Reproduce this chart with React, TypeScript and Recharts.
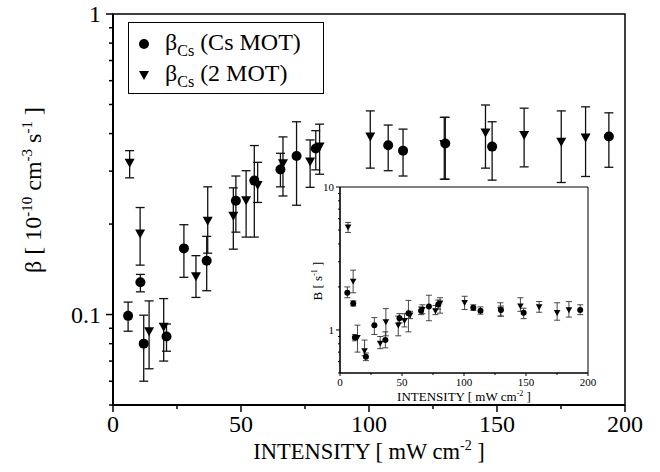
import React from 'react'
import { ScatterChart, Scatter, XAxis, YAxis, ErrorBar, ReferenceArea, Legend } from 'recharts'

const SERIF = 'Liberation Serif, Times New Roman, DejaVu Serif, serif'

// main plot: beta (10^-10 cm^3 s^-1) against intensity (mW cm^-2)
const csIntensity = [5.9, 10.7, 12.0, 20.9, 27.7, 36.6, 48.0, 55.2, 65.4, 71.7, 79.2, 107.5, 113.3, 129.8, 148.1, 193.7]
const csBeta = [0.099, 0.128, 0.080, 0.0845, 0.166, 0.151, 0.239, 0.279, 0.304, 0.337, 0.357, 0.366, 0.351, 0.371, 0.362, 0.391]
const csBetaHi = [0.110, 0.136, 0.0995, 0.093, 0.199, 0.182, 0.289, 0.365, 0.344, 0.438, 0.409, 0.427, 0.414, 0.453, 0.438, 0.469]
const csBetaLo = [0.088, 0.119, 0.060, 0.0755, 0.133, 0.120, 0.188, 0.181, 0.266, 0.231, 0.303, 0.301, 0.289, 0.282, 0.280, 0.309]

const twoIntensity = [6.5, 10.6, 14.1, 19.8, 32.4, 37.0, 47.0, 52.0, 56.5, 66.4, 77.0, 80.7, 100.5, 129.4, 145.5, 160.6, 175.1, 184.6]
const twoBeta = [0.32, 0.186, 0.088, 0.091, 0.134, 0.205, 0.213, 0.240, 0.270, 0.319, 0.323, 0.362, 0.391, 0.369, 0.403, 0.396, 0.376, 0.388]
const twoBetaHi = [0.351, 0.227, 0.111, 0.113, 0.157, 0.266, 0.264, 0.301, 0.321, 0.390, 0.381, 0.430, 0.476, 0.453, 0.498, 0.486, 0.476, 0.491]
const twoBetaLo = [0.285, 0.146, 0.066, 0.070, 0.114, 0.160, 0.165, 0.181, 0.236, 0.248, 0.265, 0.293, 0.307, 0.282, 0.307, 0.310, 0.275, 0.288]

// inset: B (s^-1) at the same intensities
const csB = [1.82, 1.53, 0.885, 0.649, 1.08, 0.851, 1.21, 1.31, 1.36, 1.46, 1.51, 1.43, 1.36, 1.38, 1.32, 1.38]
const csBHi = [2.00, 1.60, 0.93, 0.69, 1.22, 0.97, 1.30, 1.61, 1.45, 1.75, 1.62, 1.50, 1.45, 1.47, 1.42, 1.50]
const csBLo = [1.68, 1.47, 0.84, 0.61, 0.93, 0.75, 1.12, 0.97, 1.28, 1.16, 1.40, 1.37, 1.29, 1.25, 1.20, 1.28]

const twoB = [5.24, 2.19, 0.885, 0.715, 0.807, 1.14, 1.08, 1.16, 1.27, 1.39, 1.36, 1.54, 1.55, 1.38, 1.47, 1.45, 1.32, 1.38]
const twoBHi = [5.65, 2.62, 1.08, 0.85, 0.90, 1.41, 1.25, 1.30, 1.35, 1.50, 1.48, 1.68, 1.72, 1.55, 1.68, 1.58, 1.55, 1.58]
const twoBLo = [4.81, 1.82, 0.70, 0.66, 0.74, 0.91, 0.91, 1.05, 1.20, 1.30, 1.28, 1.31, 1.39, 1.25, 1.35, 1.33, 1.17, 1.23]

const mainXTicks = [0, 25, 50, 75, 100, 125, 150, 175, 200]
const mainYTicks = [0.05, 0.06, 0.07, 0.08, 0.09, 0.1, 0.2, 0.3, 0.4, 0.5, 0.6, 0.7, 0.8, 0.9, 1]
const insetXTicks = [0, 25, 50, 75, 100, 125, 150, 175, 200]
const insetYTicks = [0.5, 0.6, 0.7, 0.8, 0.9, 1, 2, 3, 4, 5, 6, 7, 8, 9, 10]

const seriesNames = ['(Cs MOT)', '(2 MOT)']

const rows = (xs: number[], ys: number[], lo: number[], hi: number[]) =>
  xs.map((x, i) => ({ x, y: ys[i], err: [ys[i] - lo[i], hi[i] - ys[i]] }))

const csRows = rows(csIntensity, csBeta, csBetaLo, csBetaHi)
const twoRows = rows(twoIntensity, twoBeta, twoBetaLo, twoBetaHi)
const csInsetRows = rows(csIntensity, csB, csBLo, csBHi)
const twoInsetRows = rows(twoIntensity, twoB, twoBLo, twoBHi)

const isDecade = (v: number) => Math.abs(Math.log10(v) - Math.round(Math.log10(v))) < 1e-6

const dot = (r: number) => (p: any) => <circle cx={p.cx} cy={p.cy} r={r} fill="#000" />
const downTri = (s: number) => (p: any) => (
  <path d={`M${p.cx - s},${p.cy - s * 0.8} L${p.cx + s},${p.cy - s * 0.8} L${p.cx},${p.cy + s} Z`} fill="#000" />
)

// ---- tick renderers (minor ticks are unlabeled and shorter)
function makeYTick(fontSize: number, major: number, minor: number, gap: number, lift: number, sw: number) {
  return (p: any) => {
    const big = isDecade(p.payload.value)
    return (
      <g>
        <line x1={p.x} x2={p.x - (big ? major : minor)} y1={p.y} y2={p.y} stroke="#000" strokeWidth={sw} />
        {big && (
          <text x={p.x - gap} y={p.y + lift} textAnchor="end" fontFamily={SERIF} fontSize={fontSize} fill="#000">
            {p.payload.value}
          </text>
        )}
      </g>
    )
  }
}

function makeXTick(fontSize: number, major: number, minor: number, drop: number, sw: number) {
  return (p: any) => {
    const big = p.payload.value % 50 === 0
    return (
      <g>
        <line x1={p.x} x2={p.x} y1={p.y} y2={p.y + (big ? major : minor)} stroke="#000" strokeWidth={sw} />
        {big && (
          <text x={p.x} y={p.y + drop} textAnchor="middle" fontFamily={SERIF} fontSize={fontSize} fill="#000">
            {p.payload.value}
          </text>
        )}
      </g>
    )
  }
}

const markerFor: Record<string, (p: any) => React.ReactElement> = {
  '(Cs MOT)': dot(5),
  '(2 MOT)': downTri(5),
}

function LegendBox(props: any) {
  const items = [...(props.payload || [])].sort(
    (a: any, b: any) => seriesNames.indexOf(a.value) - seriesNames.indexOf(b.value)
  )
  return (
    <div style={{ width: 196, height: 72, boxSizing: 'border-box', border: '1.5px solid #000', background: '#fff', paddingTop: 5, fontFamily: SERIF, fontSize: 24, color: '#000' }}>
      {items.map((e: any) => (
        <div key={e.value} style={{ display: 'flex', alignItems: 'center', height: 31 }}>
          <svg width={36} height={20} style={{ display: 'block' }}>
            {(markerFor[e.value] || dot(5))({ cx: 15, cy: 10 })}
          </svg>
          <span style={{ whiteSpace: 'nowrap', lineHeight: '24px' }}>
            β<span style={{ fontSize: 16, position: 'relative', top: 6 }}>Cs</span> {e.value}
          </span>
        </div>
      ))}
    </div>
  )
}

function MainXLabel(props: any) {
  const vb = props.viewBox
  return (
    <text x={vb.x + vb.width / 2} y={vb.y + 54} textAnchor="middle" fontFamily={SERIF} fontSize={22.5} fill="#000">
      INTENSITY [ mW cm<tspan dy={-9} fontSize={14}>-2</tspan><tspan dy={9}> ]</tspan>
    </text>
  )
}

function MainYLabel() {
  const cx = 41
  const cy = 190
  return (
    <text x={cx} y={cy} transform={`rotate(-90, ${cx}, ${cy})`} textAnchor="middle" fontFamily={SERIF} fontSize={24} fill="#000">
      β [ 10<tspan dy={-9} fontSize={15}>-10</tspan><tspan dy={9}> cm</tspan>
      <tspan dy={-9} fontSize={15}>-3</tspan><tspan dy={9}> s</tspan>
      <tspan dy={-9} fontSize={15}>-1</tspan><tspan dy={9}> ]</tspan>
    </text>
  )
}

function InsetXLabel(props: any) {
  const vb = props.viewBox
  return (
    <text x={vb.x + vb.width / 2} y={vb.y + 28} textAnchor="middle" fontFamily={SERIF} fontSize={13} fill="#000">
      INTENSITY [ mW cm<tspan dy={-5} fontSize={8}>-2</tspan><tspan dy={5}> ]</tspan>
    </text>
  )
}

function InsetYLabel() {
  const cx = 32
  const cy = 106
  return (
    <text x={cx} y={cy} transform={`rotate(-90, ${cx}, ${cy})`} textAnchor="middle" fontFamily={SERIF} fontSize={13} fill="#000">
      B [ s<tspan dy={-5} fontSize={8}>-1</tspan><tspan dy={5}> ]</tspan>
    </text>
  )
}

export default function App() {
  return (
    <div style={{ position: 'absolute', left: 0, top: 0, width: 660, height: 472, background: '#fff' }}>
      <ScatterChart width={660} height={472} margin={{ top: 14, right: 35, bottom: 0, left: 0 }}>
        <XAxis
          type="number" dataKey="x" domain={[0, 200]} ticks={mainXTicks} interval={0} height={67}
          tickSize={0} tickMargin={0} tickLine={false} tick={makeXTick(24, 7, 4, 27, 1.5)}
          axisLine={{ stroke: '#000', strokeWidth: 2 }} label={{ content: MainXLabel }}
        />
        <YAxis
          type="number" dataKey="y" scale="log" domain={[0.05, 1]} allowDataOverflow ticks={mainYTicks} interval={0}
          width={113} tickSize={0} tickMargin={0} tickLine={false} tick={makeYTick(24, 7, 4, 12, 8, 1.5)}
          axisLine={{ stroke: '#000', strokeWidth: 2 }} label={{ content: MainYLabel }}
        />
        <ReferenceArea x1={0} x2={200} y1={0.05} y2={1} fill="none" stroke="#000" strokeWidth={1.5} />
        <Legend
          layout="vertical" align="center" verticalAlign="middle" content={LegendBox}
          wrapperStyle={{ left: 128, top: 22, width: 196, height: 72 }}
        />
        <Scatter name="(Cs MOT)" data={csRows} shape={dot(5)} isAnimationActive={false}>
          <ErrorBar dataKey="err" direction="y" width={4.5} stroke="#111" strokeWidth={1.3} isAnimationActive={false} />
        </Scatter>
        <Scatter name="(2 MOT)" data={twoRows} shape={downTri(5)} isAnimationActive={false}>
          <ErrorBar dataKey="err" direction="y" width={4.5} stroke="#111" strokeWidth={1.3} isAnimationActive={false} />
        </Scatter>
      </ScatterChart>

      {/* inset */}
      <div style={{ position: 'absolute', left: 290, top: 175 }}>
        <ScatterChart width={310} height={235} margin={{ top: 12, right: 12, bottom: 0, left: 0 }}>
          <XAxis
            type="number" dataKey="x" domain={[0, 200]} ticks={insetXTicks} interval={0} height={37}
            tickSize={0} tickMargin={0} tickLine={false} tick={makeXTick(11, 3, 2, 13, 1)}
            axisLine={{ stroke: '#000', strokeWidth: 1.2 }} label={{ content: InsetXLabel }}
          />
          <YAxis
            type="number" dataKey="y" scale="log" domain={[0.5, 10]} allowDataOverflow ticks={insetYTicks} interval={0}
            width={50} tickSize={0} tickMargin={0} tickLine={false} tick={makeYTick(11, 4, 2, 6, 4, 1)}
            axisLine={{ stroke: '#000', strokeWidth: 1.2 }} label={{ content: InsetYLabel }}
          />
          <ReferenceArea x1={0} x2={200} y1={0.5} y2={10} fill="none" stroke="#000" strokeWidth={1} />
          <Scatter name="Cs MOT" data={csInsetRows} shape={dot(3)} isAnimationActive={false}>
            <ErrorBar dataKey="err" direction="y" width={3} stroke="#333" strokeWidth={0.9} isAnimationActive={false} />
          </Scatter>
          <Scatter name="2 MOT" data={twoInsetRows} shape={downTri(3.3)} isAnimationActive={false}>
            <ErrorBar dataKey="err" direction="y" width={3} stroke="#333" strokeWidth={0.9} isAnimationActive={false} />
          </Scatter>
        </ScatterChart>
      </div>
    </div>
  )
}
